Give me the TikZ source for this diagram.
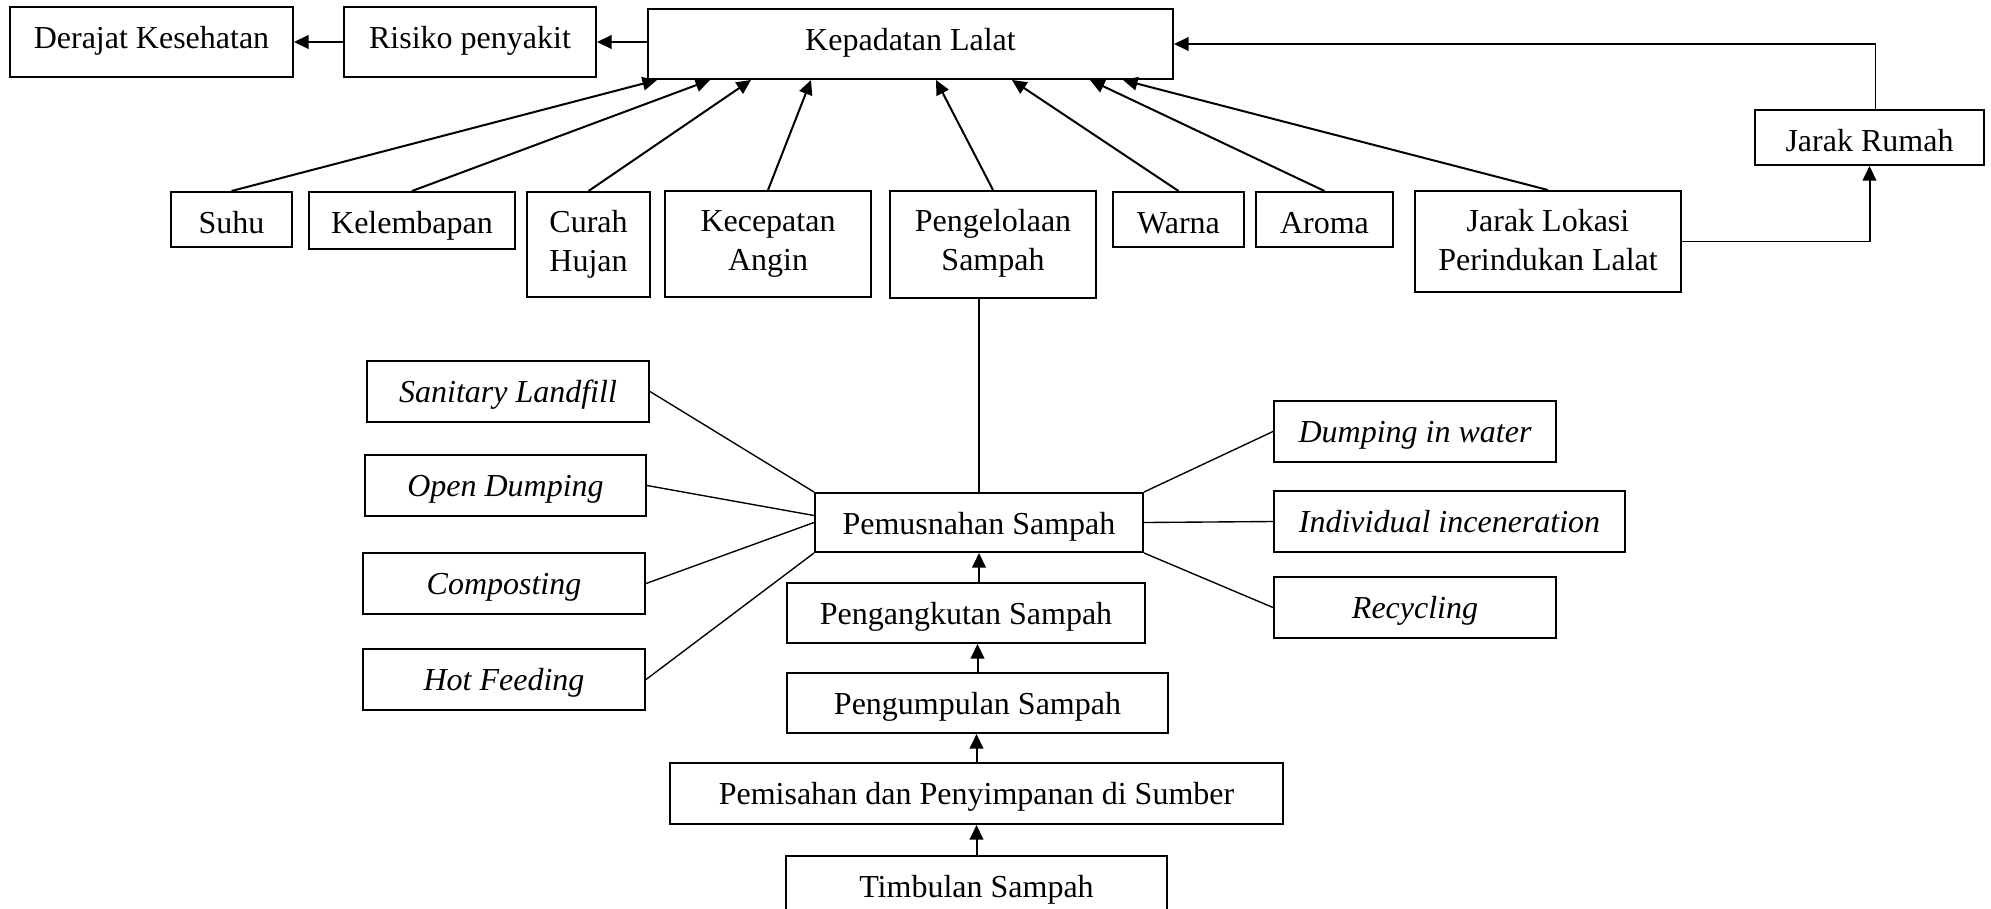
\documentclass[tikz,border=0pt]{standalone}
\usepackage{fontspec}
\setmainfont{Liberation Serif}
\usetikzlibrary{arrows.meta,calc}
\tikzset{
  bx/.style={draw, line width=0.8pt, inner sep=0pt, align=center, font=\fontsize{12.8}{15.4}\selectfont},
  it/.style={font=\fontsize{12.8}{15.4}\selectfont\itshape},
  arr/.style={line width=0.8pt, -{Triangle[length=5.8pt,width=5.4pt]}},
  thinl/.style={line width=0.55pt},
}
% #1 options, #2 baseline offset of last line (pt), #3 name, #4 x1, #5 y1, #6 x2, #7 y2, #8 text
\newcommand\gbox[8]{%
  \pgfmathsetmacro\mydp{(#7-#5)*0.4-#2}%
  \node[bx,#1,minimum width={(#6-#4)*0.4pt},minimum height={(#7-#5)*0.4pt},
    text height=#2pt,text depth=\mydp pt] (#3) at ({(#4+#6)/2},{(#5+#7)/2}) {#8};}
\newcommand\mybox[6][]{\gbox{#1}{16.4}{#2}{#3}{#4}{#5}{#6}}
\newcommand\myboxii[6][]{\gbox{#1}{31.6}{#2}{#3}{#4}{#5}{#6}}
\begin{document}
\begin{tikzpicture}[x=0.4pt,y=-0.4pt]
\useasboundingbox (0,0) rectangle (1991,908);
\clip (0,0) rectangle (1991,908);
\mybox{derajat}{10}{7}{293}{77}{Derajat Kesehatan}
\mybox{risiko}{344}{7}{596}{77}{Risiko penyakit}
\mybox{kep}{648}{9}{1173}{79}{Kepadatan Lalat}
\mybox{suhu}{171}{192}{292}{247}{Suhu}
\mybox{kel}{309}{192}{515}{249}{Kelembapan}
\myboxii{curah}{527}{192}{650}{297}{Curah\\Hujan}
\myboxii{kec}{665}{191}{871}{297}{Kecepatan\\Angin}
\myboxii{pengel}{890}{191}{1096}{298}{Pengelolaan\\Sampah}
\mybox{warna}{1113}{192}{1244}{247}{Warna}
\mybox{aroma}{1256}{192}{1393}{247}{Aroma}
\myboxii{jl}{1415}{191}{1681}{292}{Jarak Lokasi\\Perindukan Lalat}
\mybox{jr}{1755}{110}{1984}{165}{Jarak Rumah}
\mybox[it]{sl}{367}{361}{649}{422}{Sanitary Landfill}
\mybox[it]{od}{365}{455}{646}{516}{Open Dumping}
\mybox[it]{comp}{363}{553}{645}{614}{Composting}
\mybox[it]{hf}{363}{649}{645}{710}{Hot Feeding}
\mybox{pm}{815}{493}{1143}{552}{Pemusnahan Sampah}
\mybox{pa}{787}{583}{1145}{643}{Pengangkutan Sampah}
\mybox{pu}{787}{673}{1168}{733}{Pengumpulan Sampah}
\mybox{ps}{670}{763}{1283}{824}{Pemisahan dan Penyimpanan di Sumber}
\mybox{tb}{786}{856}{1167}{917}{Timbulan Sampah}
\mybox[it]{dw}{1274}{401}{1556}{462}{Dumping in water}
\mybox[it]{ind}{1274}{491}{1625}{552}{Individual inceneration}
\mybox[it]{rec}{1274}{577}{1556}{638}{Recycling}
% top row arrows
\draw[arr] (kep.west|-risiko.east) -- (risiko.east);
\draw[arr] (risiko.west) -- (derajat.east);
\draw[arr] (suhu.north) -- ($(kep.south west)+(10,0)$);
\draw[arr] (kel.north) -- ($(kep.south west)+(63,0)$);
\draw[arr] (curah.north) -- ($(kep.south west)+(104,0)$);
\draw[arr] (kec.north) -- ($(kep.south west)+(164,0)$);
\draw[arr] (pengel.north) -- ($(kep.south west)+(289,0)$);
\draw[arr] (warna.north) -- ($(kep.south west)+(365,0)$);
\draw[arr] (aroma.north) -- ($(kep.south west)+(443,0)$);
\draw[arr] (jl.north) -- ($(kep.south west)+(476,0)$);
\coordinate (jrtop) at ($(jr.north)+(6,0)$);
\draw[thinl] (jrtop) -- (jrtop|-kep.east);
\draw[arr] (jrtop|-kep.east) -- (kep.east);
\draw[thinl] (jl.east) -- (jl.east-|jr.south);
\draw[arr] (jl.east-|jr.south) -- (jr.south);
% waste chain
\draw[thinl] (pengel.south-|pm.north) -- (pm.north);
\draw[arr] (tb.north) -- (tb.north|-ps.south);
\draw[arr] (ps.north) -- (ps.north|-pu.south);
\draw[arr] (pu.north) -- (pu.north|-pa.south);
\draw[arr] (pm.south|-pa.north) -- (pm.south);
% disposal methods
\draw[thinl] (sl.east) -- (pm.north west);
\draw[thinl] (od.east) -- ($(pm.west)+(0,-7)$);
\draw[thinl] (comp.east) -- (pm.west);
\draw[thinl] (hf.east) -- (pm.south west);
\draw[thinl] (pm.north east) -- (dw.west);
\draw[thinl] (pm.east) -- (ind.west);
\draw[thinl] (pm.south east) -- (rec.west);
\end{tikzpicture}
\end{document}
